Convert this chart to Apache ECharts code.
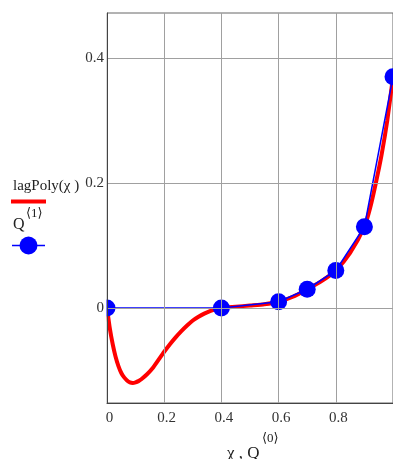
<!DOCTYPE html>
<html>
<head>
<meta charset="utf-8">
<script src="https://cdn.jsdelivr.net/npm/echarts@6/dist/echarts.min.js"></script>
<style>
  html, body { margin: 0; padding: 0; background: #fff; }
  #chart { width: 393px; height: 459px; }
</style>
</head>
<body>
<div id="chart"></div>
<script>
// Nodes: Q<0> (χ) and Q<1>
const qX = [0, 0.4, 0.6, 0.7, 0.8, 0.9, 1.0];
const qY = [0, 0, 0.01, 0.03, 0.06, 0.13, 0.37];

// lagPoly(χ) traced at these χ positions
const polyX = [0, 0.01, 0.02, 0.03, 0.04, 0.05, 0.06, 0.07, 0.08, 0.09, 0.10, 0.11, 0.12,
               0.14, 0.16, 0.18, 0.20, 0.22, 0.24, 0.26, 0.28, 0.30, 0.32, 0.34, 0.36, 0.38, 0.40,
               0.45, 0.50, 0.55, 0.60, 0.65, 0.70, 0.75, 0.80, 0.85, 0.90, 0.92, 0.94, 0.96, 0.98, 1.0];
const polyY = [0, -0.033, -0.058, -0.078, -0.093, -0.104, -0.111, -0.116, -0.119, -0.120, -0.119, -0.117, -0.114,
               -0.106, -0.096, -0.083, -0.070, -0.058, -0.047, -0.037, -0.028, -0.020, -0.014, -0.009, -0.005, -0.002, 0,
               0.002, 0.004, 0.006, 0.01, 0.018, 0.03, 0.043, 0.06, 0.088, 0.13, 0.16, 0.2, 0.245, 0.3, 0.37];

// Axis ticks
const xTicks = [0, 0.2, 0.4, 0.6, 0.8, 1];
const yTicks = [0, 0.2, 0.4];
const yRange = [-0.152, 0.472];

const SERIF = "'Liberation Serif', 'DejaVu Serif', serif";
const fmt = v => (v === 0 ? '0' : v.toFixed(1));

const GRID = { left: 107, top: 13, width: 289, height: 390 };

const chart = echarts.init(document.getElementById('chart'), null, { renderer: 'canvas' });

chart.setOption({
  animation: false,
  backgroundColor: '#ffffff',
  grid: Object.assign({ show: true, borderColor: '#666', borderWidth: 1, containLabel: false }, GRID),
  xAxis: {
    type: 'value', z: 20,
    min: xTicks[0], max: xTicks[xTicks.length - 1], interval: 0.2,
    axisLine: { onZero: false, lineStyle: { color: '#444', width: 1 } },
    axisTick: { show: false },
    splitLine: { show: true, lineStyle: { color: '#a0a0a0', width: 1 } },
    axisLabel: {
      showMaxLabel: false, margin: 8, padding: [0, 0, 0, 5],
      color: '#333', fontFamily: SERIF, fontSize: 15, formatter: fmt
    }
  },
  yAxis: {
    type: 'value', z: 20,
    min: yRange[0], max: yRange[1],
    axisLine: { show: true, lineStyle: { color: '#444', width: 1 } },
    axisTick: { show: false },
    splitLine: { show: false },
    axisLabel: {
      customValues: yTicks, margin: 3, padding: [5, 0, 0, 0],
      color: '#333', fontFamily: SERIF, fontSize: 15, formatter: fmt
    }
  },
  series: [
    {
      // horizontal grid lines
      type: 'line', data: [], z: 1, silent: true,
      markLine: {
        silent: true, symbol: 'none', animation: false,
        label: { show: false },
        lineStyle: { color: '#a0a0a0', width: 1, type: 'solid' },
        data: yTicks.map(v => ({ yAxis: v }))
      }
    },
    {
      name: 'lagPoly(χ)', type: 'line', z: 2,
      data: polyX.map((x, i) => [x, polyY[i]]),
      smooth: 0.2, showSymbol: false, clip: true,
      lineStyle: { color: '#ff0000', width: 4 }
    },
    {
      name: 'Q<1>', type: 'line', z: 3,
      data: qX.map((x, i) => [x, qY[i]]),
      showSymbol: false, clip: true,
      lineStyle: { color: '#0000ff', width: 1.5 }
    },
    {
      name: 'Q<1> nodes', type: 'scatter', z: 4,
      data: qX.map((x, i) => [x, qY[i]]),
      symbol: 'circle', symbolSize: 17, clip: true,
      itemStyle: { color: '#0000ff', opacity: 1 }
    }
  ],
  graphic: [
    // mask left of the plot frame so markers end at the axis
    { type: 'rect', z: 10, silent: true,
      shape: { x: 80, y: GRID.top, width: GRID.left - 80 - 0.5, height: GRID.height + 10 },
      style: { fill: '#ffffff' } },
    // trace legend
    { type: 'text', z: 11, left: 13, top: 179, style: { text: 'lagPoly(χ )', font: '15px ' + SERIF, fill: '#222' } },
    { type: 'line', z: 11, shape: { x1: 11, y1: 201.5, x2: 46, y2: 201.5 }, style: { stroke: '#ff0000', lineWidth: 4 } },
    { type: 'text', z: 11, left: 13, top: 217, style: { text: 'Q', font: '16px ' + SERIF, fill: '#222' } },
    { type: 'text', z: 11, left: 26, top: 207, style: { text: '⟨1⟩', font: '13px ' + SERIF, fill: '#222' } },
    { type: 'line', z: 11, shape: { x1: 12, y1: 245.5, x2: 45, y2: 245.5 }, style: { stroke: '#0000ff', lineWidth: 1.5 } },
    { type: 'circle', z: 11, shape: { cx: 28.5, cy: 245.5, r: 9 }, style: { fill: '#0000ff' } },
    // x-axis title
    { type: 'text', left: 227, top: 445, style: { text: 'χ , Q', font: '17px ' + SERIF, fill: '#222' } },
    { type: 'text', left: 262, top: 432, style: { text: '⟨0⟩', font: '13px ' + SERIF, fill: '#222' } }
  ]
});
</script>
</body>
</html>
